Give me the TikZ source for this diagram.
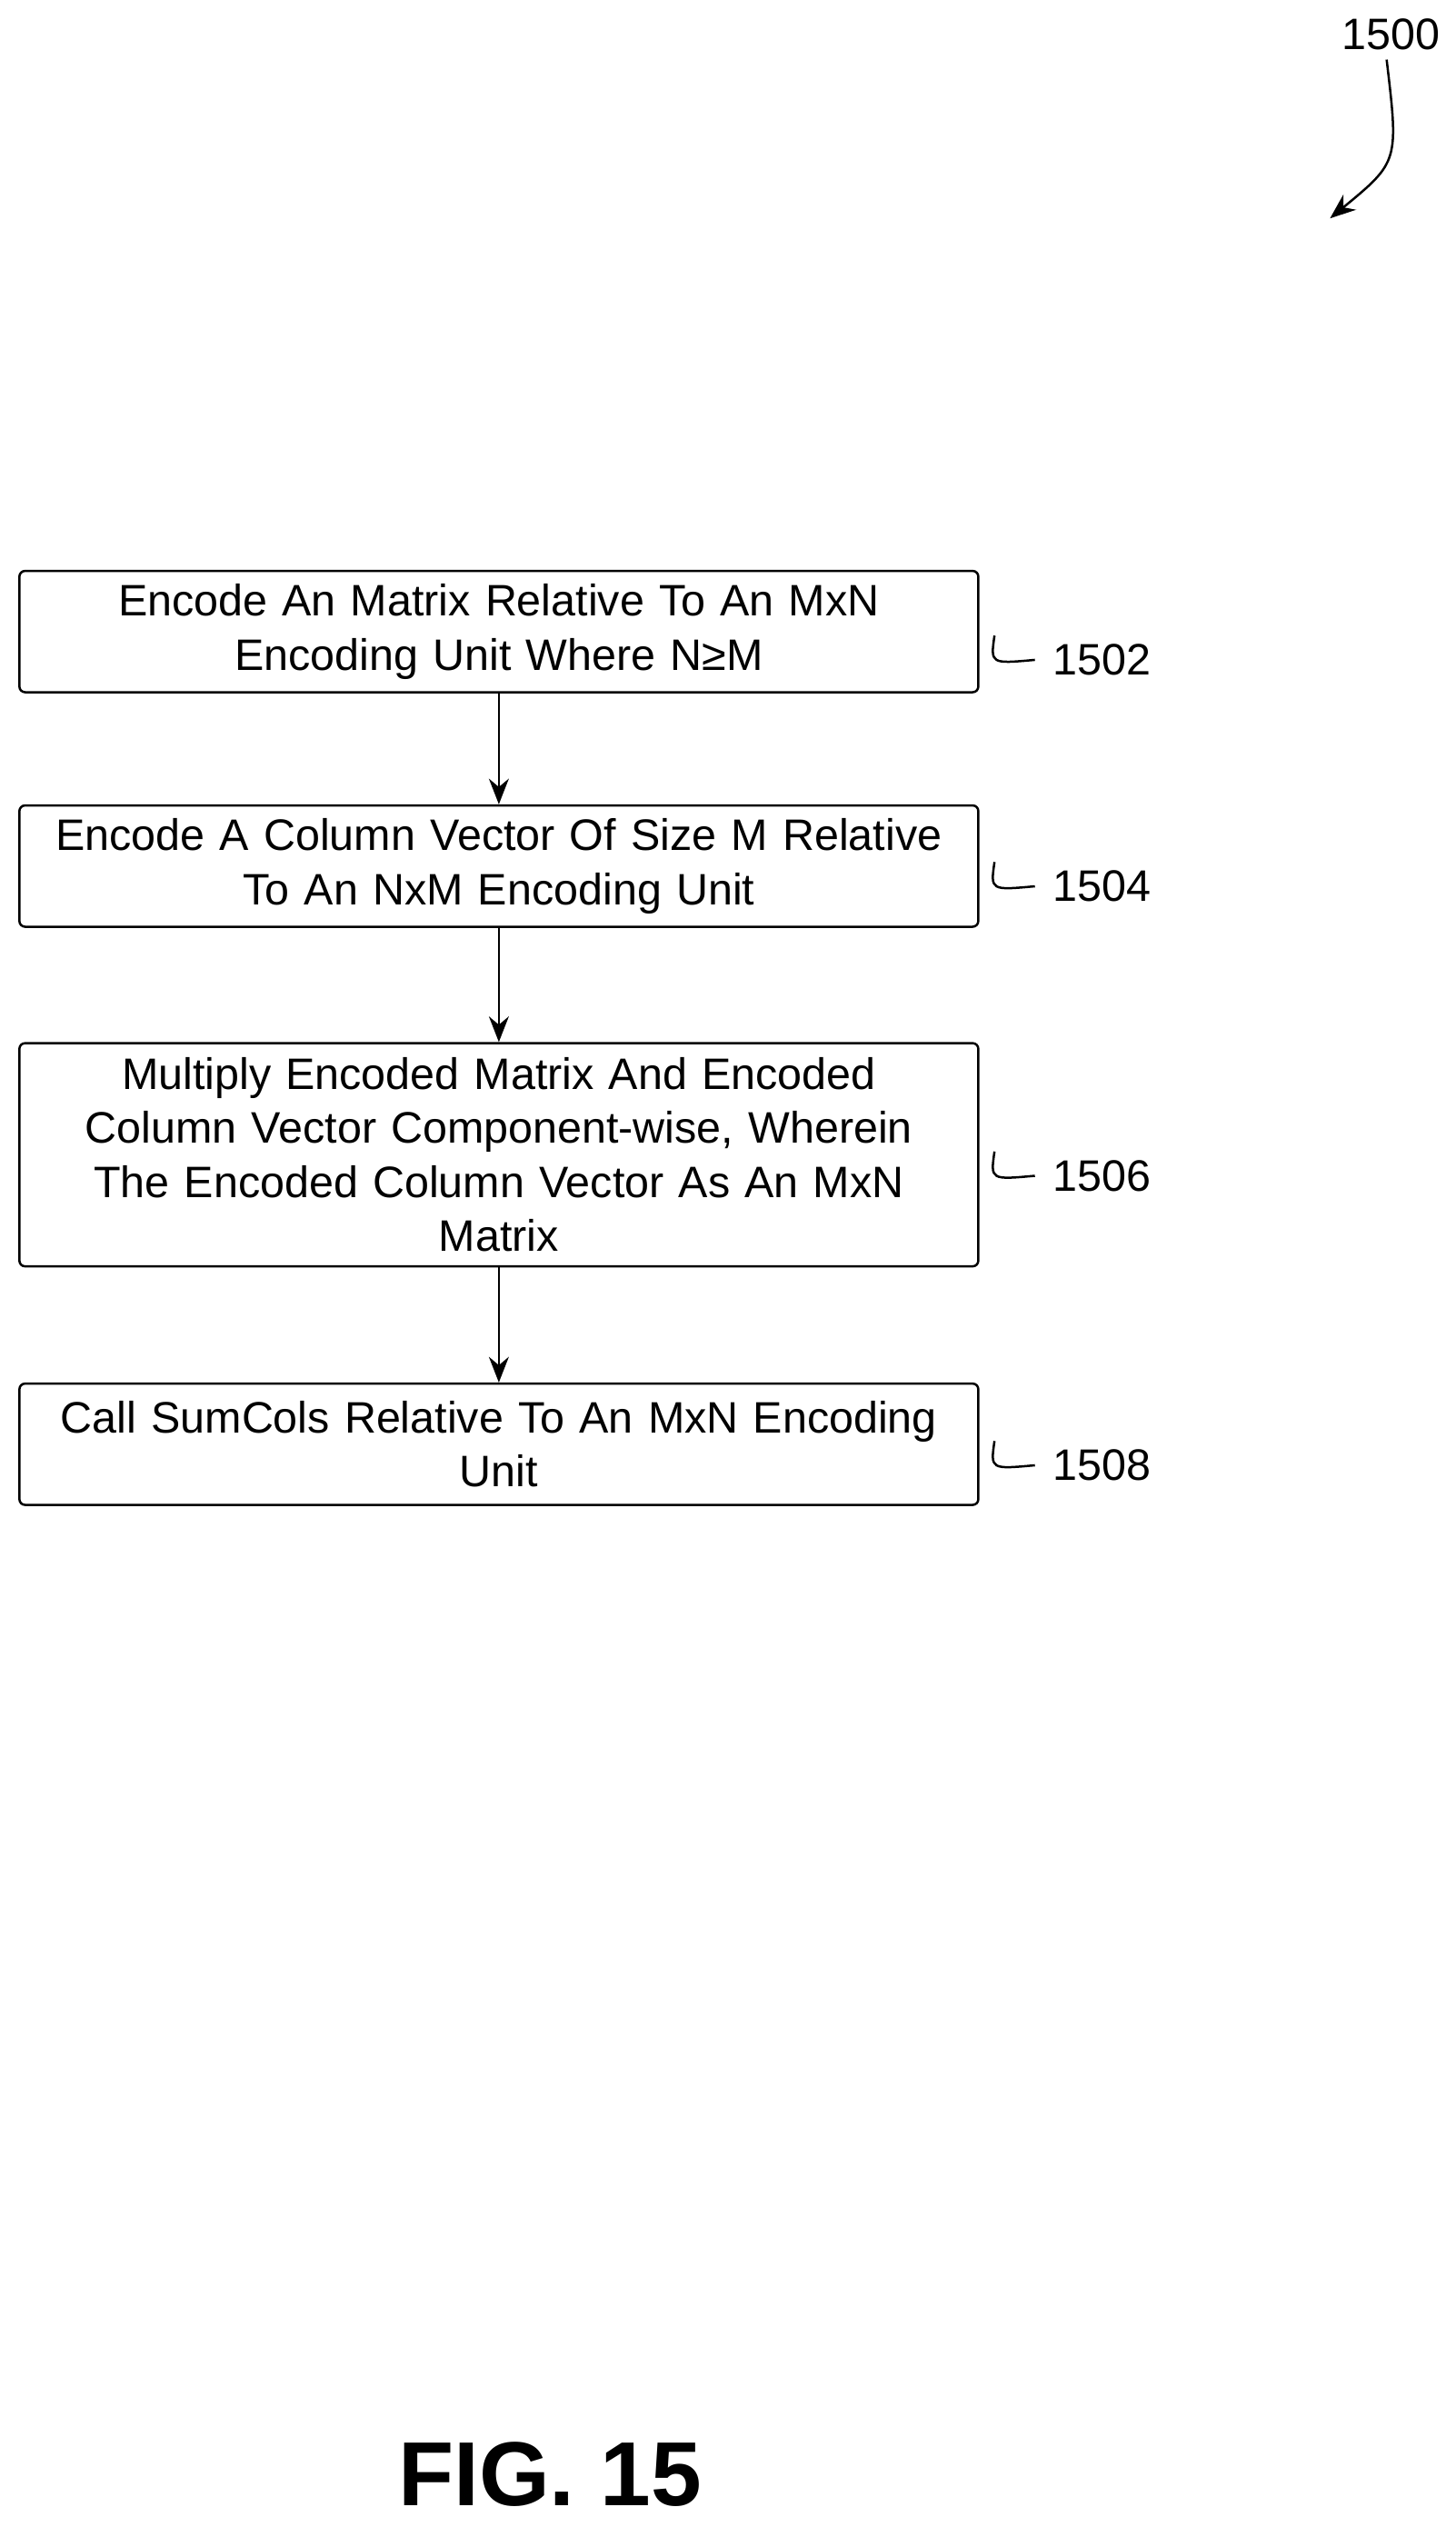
\documentclass[tikz,border=0pt]{standalone}
\usepackage{fontspec}
\setmainfont{Liberation Sans}
\usetikzlibrary{arrows.meta, positioning}

\begin{document}
\begin{tikzpicture}[
    process/.style={rectangle, draw, thick, rounded corners=2pt, minimum width=11.86cm, minimum height=1.5cm, align=center, text width=11.4cm, font=\fontsize{15.5}{19}\selectfont},
    arrow/.style={-{Stealth[length=9pt, width=7pt]}, thick},
    tag/.style={font=\fontsize{15.5}{19}\selectfont, anchor=west},
    hook/.style={thick}
]
\useasboundingbox (0,0) rectangle (18,-31.25);

% Flow steps
\node[process] (s1) at (6.17,-7.81) {Encode An Matrix Relative To An MxN\\Encoding Unit Where N≥M};
\node[process] (s2) at (6.17,-10.71) {Encode A Column Vector Of Size M Relative\\To An NxM Encoding Unit};
\node[process, minimum height=2.76cm] (s3) at (6.17,-14.28) {Multiply Encoded Matrix And Encoded\\Column Vector Component-wise, Wherein\\The Encoded Column Vector As An MxN\\Matrix};
\node[process] (s4) at (6.17,-17.86) {Call SumCols Relative To An MxN Encoding\\Unit};

% Reference numerals
\node[tag] (t1) at (12.9,-8.16) {1502};
\node[tag] (t2) at (12.9,-10.96) {1504};
\node[tag] (t3) at (12.9,-14.54) {1506};
\node[tag] (t4) at (12.9,-18.12) {1508};
\foreach \t in {t1,t2,t3,t4}
  \draw[hook] ([xshift=-0.6cm,yshift=0.3cm]\t.west) .. controls ([xshift=-0.65cm,yshift=-0.05cm]\t.west) .. ([xshift=-0.1cm]\t.west);

% Connections
\draw[arrow] (s1) -- (s2);
\draw[arrow] (s2) -- (s3);
\draw[arrow] (s3) -- (s4);

% Figure number
\node[font=\fontsize{15.5}{19}\selectfont] (fig) at (17.2,-0.42) {1500};
\coordinate (figend) at (16.45,-2.7);
\draw[arrow] ([xshift=-0.05cm]fig.south) .. controls (17.3,-2.0) .. (figend);

\node[font=\fontsize{32}{38}\selectfont\bfseries] (title) at (6.8,-30.6) {FIG. 15};
\end{tikzpicture}
\end{document}
